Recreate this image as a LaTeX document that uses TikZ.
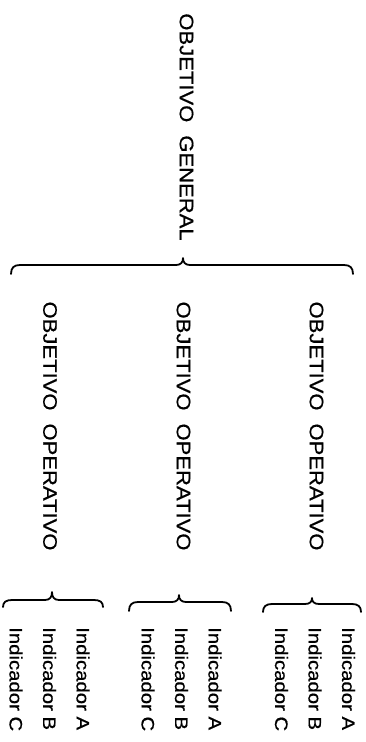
\documentclass[tikz,border=0pt]{standalone}
\usepackage{fontspec}
\setmainfont{Liberation Sans}[FakeStretch=1.13,FakeBold=0.6]
% horizontal curly brace: #1 left x, #2 tip x, #3 right x, #4 line y, #5 tip rise, #6 end drop
\newcommand\hbrace[6]{%
  \draw[br] (#1,#4+#6) .. controls (#1,#4+0.3*#6) and (#1+3,#4) .. (#1+9,#4)
    -- (#2-7,#4) .. controls (#2-2,#4) and (#2,#4-0.4*#5) .. (#2,#4-#5)
    .. controls (#2,#4-0.4*#5) and (#2+2,#4) .. (#2+7,#4)
    -- (#3-9,#4) .. controls (#3-3,#4) and (#3,#4+0.3*#6) .. (#3,#4+#6);}
\begin{document}
\begin{tikzpicture}[x=1pt,y=-1pt,
  lbl/.style={font=\fontsize{19.5}{22}\selectfont, rotate=-90, inner sep=0pt},
  ind/.style={font=\fontsize{18}{33.5}\selectfont, rotate=-90, inner sep=0pt, align=left, anchor=west},
  br/.style={line width=1.8pt, line cap=round, line join=round}]
\fill[white] (0,0) rectangle (366,742);
\useasboundingbox (0,0) rectangle (366,742);

\node[lbl] (gen) at (186.5,127) {OBJETIVO\hspace{13pt}GENERAL};

\hbrace{11}{183}{353}{265}{7}{9}

\node[lbl] (op1) at (50,426) {OBJETIVO\hspace{13pt}OPERATIVO};
\node[lbl] (op2) at (183.5,426) {OBJETIVO\hspace{13pt}OPERATIVO};
\node[lbl] (op3) at (316.5,426) {OBJETIVO\hspace{13pt}OPERATIVO};

\hbrace{3}{52}{103}{600}{8}{7}
\hbrace{129}{179}{231}{602}{7}{9}
\hbrace{263}{312}{361}{604}{6}{8}

\node[ind] (ind1) at (49.5,627) {Indicador A\\Indicador B\\Indicador C};
\node[ind] (ind2) at (181.5,627) {Indicador A\\Indicador B\\Indicador C};
\node[ind] (ind3) at (315,627) {Indicador A\\Indicador B\\Indicador C};
\end{tikzpicture}
\end{document}
